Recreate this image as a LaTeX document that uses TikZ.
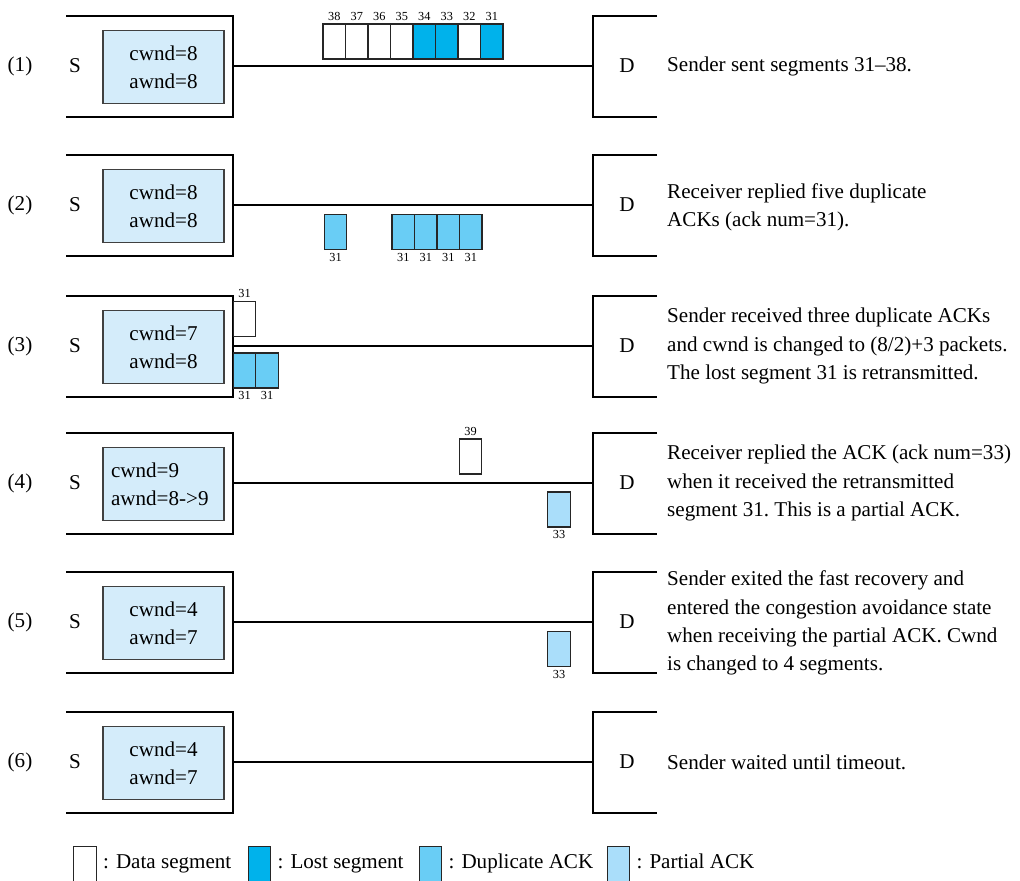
\documentclass[tikz,border=0pt]{standalone}
\usepackage{fontspec}
\setmainfont{Liberation Serif}
\usepackage{tikz}
\usetikzlibrary{positioning}
\usepackage{xcolor}
\definecolor{wndblue}{RGB}{212,236,250}
\definecolor{lostblue}{RGB}{0,178,235}
\definecolor{dupblue}{RGB}{105,205,245}
\definecolor{partblue}{RGB}{170,222,250}
\tikzset{
  host/.style={line width=0.9pt},
  wnd/.style={draw=black!75, line width=0.6pt, fill=wndblue, align=center,
    minimum width=2.42cm, minimum height=1.46cm, inner sep=0pt},
  seg/.style={draw=black!85, line width=0.6pt, fill=white,
    minimum width=0.45cm, minimum height=0.7cm, inner sep=0pt},
  lost/.style={seg, fill=lostblue},
  dup/.style={seg, fill=dupblue},
  part/.style={seg, fill=partblue},
  num/.style={font=\fontsize{7}{8}\selectfont, inner sep=1.5pt},
  note/.style={anchor=west, align=left},
  key/.style={inner sep=0pt, text height=1.6ex, text depth=0.4ex},
}

\begin{document}
\begin{tikzpicture}[x=0.02cm, y=-0.02cm, font=\fontsize{12}{16}\selectfont]
	\useasboundingbox (0,0) rectangle (1020,881);
	% six snapshots: sender S, link, receiver D
	\foreach \k/\r in {1/66, 2/205, 3/346, 4/483, 5/622, 6/762} {
		\node (step\k) at (20,\r) {(\k)};
		\node (src\k) at (75,\r) {S};
		\node (dst\k) at (627,\r) {D};
		\coordinate (s\k) at (233,\r);
		\coordinate (d\k) at (593,\r);
		\draw[host] (66,\r-50) -- (233,\r-50) -- (233,\r+51) -- (66,\r+51);
		\draw[host] (657,\r-50) -- (593,\r-50) -- (593,\r+51) -- (657,\r+51);
		\draw[host] (s\k) -- (d\k);
	}
	% congestion / advertised windows
	\node[wnd] (wnd1) at (163.5,67) {cwnd=8\\awnd=8};
	\node[wnd] (wnd2) at (163.5,206) {cwnd=8\\awnd=8};
	\node[wnd] (wnd3) at (163.5,347) {cwnd=7\\awnd=8};
	\node[wnd, align=left, text width=2.1cm, inner xsep=0.16cm] (wnd4) at (163.5,484) {cwnd=9\\awnd=8->9};
	\node[wnd] (wnd5) at (163.5,623) {cwnd=4\\awnd=7};
	\node[wnd] (wnd6) at (163.5,763) {cwnd=4\\awnd=7};
	% (1) segments 31-38 in flight
	\foreach \n/\i/\t in {38/0/seg, 37/1/seg, 36/2/seg, 35/3/seg, 34/4/lost, 33/5/lost, 32/6/seg, 31/7/lost}
		\node[\t, label={[num]above:\n}] (a\n) at (334.25+22.5*\i,41.5) {};
	% (2) duplicate ACKs
	\node[dup, label={[num]below:31}] (b0) at (335.5,232) {};
	\foreach \i in {1,...,4}
		\node[dup, label={[num]below:31}] (b\i) at (380.75+22.5*\i,232) {};
	% (3) retransmission of 31
	\node[seg, label={[num]above:31}] (c0) at (244.5,319) {};
	\node[dup, label={[num]below:31}] (c1) at (244.5,370.5) {};
	\node[dup, label={[num]below:31}] (c2) at (267,370.5) {};
	% (4) new segment and partial ACK
	\node[seg, label={[num]above:39}] (e0) at (470.5,456.5) {};
	\node[part, label={[num]below:33}] (e1) at (559,509.5) {};
	% (5)
	\node[part, label={[num]below:33}] (f1) at (559,649) {};
	% descriptions
	\node[note] (txt1) at (661,66) {Sender sent segments 31--38.};
	\node[note] (txt2) at (661,207) {Receiver replied five duplicate\\ACKs (ack num=31).};
	\node[note] (txt3) at (661,346) {Sender received three duplicate ACKs\\and cwnd is changed to (8/2)+3 packets.\\The lost segment 31 is retransmitted.};
	\node[note] (txt4) at (661,483) {Receiver replied the ACK (ack num=33)\\when it received the retransmitted\\segment 31.\ This is a partial ACK.};
	\node[note] (txt5) at (661,623) {Sender exited the fast recovery and\\entered the congestion avoidance state\\when receiving the partial ACK. Cwnd\\is changed to 4 segments.};
	\node[note] (txt6) at (661,762) {Sender waited until timeout.};
	% legend
	\node[seg] (leg1) at (85,864) {};
	\node[key, right=0.12cm of leg1] {: Data segment};
	\node[lost] (leg2) at (259.5,864) {};
	\node[key, right=0.12cm of leg2] {: Lost segment};
	\node[dup] (leg3) at (430.5,864) {};
	\node[key, right=0.12cm of leg3] {: Duplicate ACK};
	\node[part] (leg4) at (618.5,864) {};
	\node[key, right=0.12cm of leg4] {: Partial ACK};
\end{tikzpicture}
\end{document}
